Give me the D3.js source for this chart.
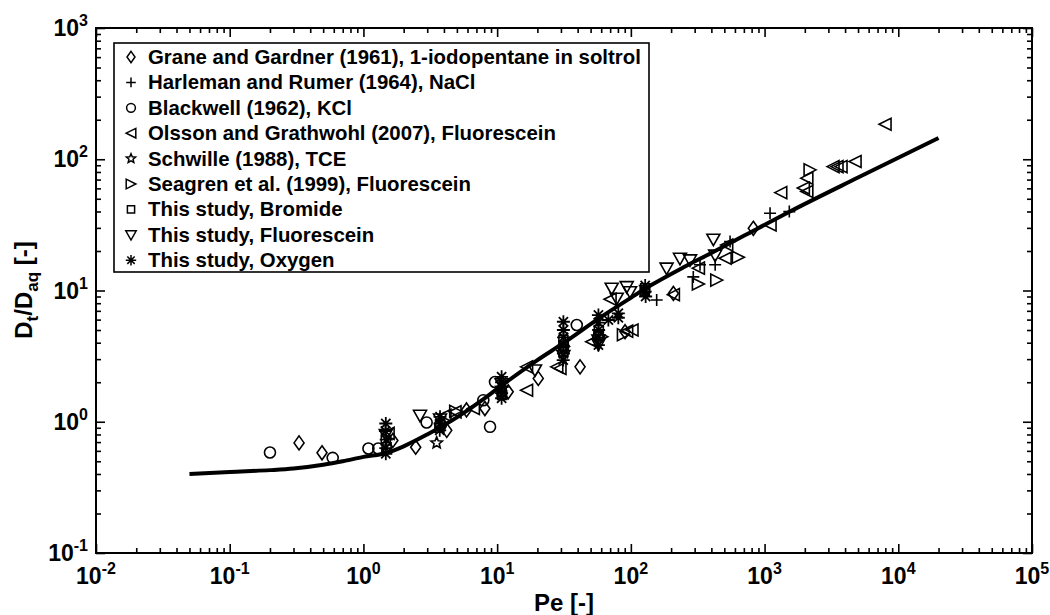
<!DOCTYPE html>
<html><head><meta charset="utf-8">
<script src="https://cdn.jsdelivr.net/npm/d3@7"></script>
<style>
body{margin:0;background:#fff}
text{font-family:"Liberation Sans",Arial,Helvetica,sans-serif;font-weight:bold;fill:#000}
</style>
</head><body>
<svg id="chart" width="1050" height="615"></svg>
<script>
// ---------- data ----------
const xDecades = [-2,-1,0,1,2,3,4,5];
const yDecades = [-1,0,1,2,3];
const xTitle = "Pe [-]";

const legendLabels = [
  "Grane and Gardner (1961), 1-iodopentane in soltrol",
  "Harleman and Rumer (1964), NaCl",
  "Blackwell (1962), KCl",
  "Olsson and Grathwohl (2007), Fluorescein",
  "Schwille (1988), TCE",
  "Seagren et al. (1999), Fluorescein",
  "This study, Bromide",
  "This study, Fluorescein",
  "This study, Oxygen"
];

// [Pe, Dt/Daq]
const grane = [[0.33,0.69],[0.49,0.58],[1.66,0.72],[2.46,0.64],[4.2,0.86],[5.9,1.23],[8.1,1.26],[12.1,1.69],[20.3,2.14],[41.7,2.62],[90.5,4.85],[208,9.5],[824,29.8]];
const harleman = [[156,8.47],[293,12.7],[329,15.7],[427,15.7],[552,23.6],[1099,38.8],[1531,39.9]];
const blackwell = [[0.2,0.583],[0.589,0.531],[1.09,0.626],[1.29,0.626],[2.97,0.988],[3.8,0.95],[7.88,1.46],[8.85,0.915],[9.64,2.01],[39.4,5.46]];
const olsson = [[1.53,0.815],[4.07,1.12],[4.84,1.19],[6.64,1.26],[16.6,1.74],[16.6,2.62],[27.9,2.62],[29.5,2.55],[51,4.07],[69.9,8.57],[93,4.9],[102,5.0],[208,9.3],[320,14.8],[507,17.6],[521,22.2],[1099,31.6],[1321,55.7],[1950,60.3],[2070,56.8],[2070,71.8],[3250,87.9],[3480,87.9],[3730,87.9],[4750,96.1],[7960,185]];
const schwille = [[3.53,0.69],[10.8,1.8],[31.3,3.6]];
const seagren = [[4.9,1.2],[60.6,4.44],[88,4.6],[320,11.2],[439,12.0],[637,17.9],[2190,83]];
const bromide = [[1.47,0.72],[1.49,0.64],[3.74,0.95],[3.7,0.9],[10.8,1.7],[10.9,1.6],[31.3,3.4],[31.5,3.8],[31.3,4.2],[57.2,4.5],[57.6,5.0],[128,10.4],[127,9.8]];
const fluorescein = [[1.47,0.8],[2.65,1.12],[3.74,1.05],[10.8,1.95],[19.2,2.48],[31.3,3.2],[57.2,3.9],[57.2,4.2],[71.9,10.4],[78.4,8.73],[93.1,10.7],[98.6,9.79],[185,14.8],[233,17.6],[277,17.1],[414,24.6],[427,18.6]];
const oxygen = [[1.47,0.97],[1.46,0.85],[1.48,0.73],[1.47,0.63],[1.47,0.57],[3.74,1.09],[3.74,0.97],[3.72,0.86],[10.8,2.2],[10.8,2.0],[10.9,1.84],[10.8,1.65],[10.8,1.51],[31.3,5.78],[31.3,5.0],[31.4,4.4],[31.3,3.8],[31.3,3.3],[31.2,2.95],[57.2,6.5],[57.2,5.7],[57.4,5.0],[57.2,4.4],[57.2,3.84],[67.9,5.96],[80.6,6.7],[80.6,6.2],[128,10.9],[128,9.8],[129,9.0]];

const curvePe = [0.05,0.1,0.2,0.3,0.5,0.7,1,1.5,2,3,5,8,10,20,31,60,100,140,250,400,700,1550,5000,20000];
const curveDt = [0.40,0.415,0.428,0.44,0.47,0.50,0.54,0.58,0.65,0.80,1.08,1.5,1.78,2.95,3.95,6.3,8.8,10.9,15.1,19.3,26.1,40,72.5,145];

// ---------- symbols ----------
function starPath(R, r){
  let p = "";
  for (let i=0;i<10;i++){
    const a = -Math.PI/2 + i*Math.PI/5;
    const rr = i%2===0 ? R : r;
    p += (i===0?"M":"L") + (rr*Math.cos(a)).toFixed(2) + "," + (rr*Math.sin(a)).toFixed(2);
  }
  return p + "Z";
}
const symbolPaths = {
  diamond: s => `M0,${-7*s}L${5*s},0L0,${7*s}L${-5*s},0Z`,
  plus: s => `M${-6*s},0H${6*s}M0,${-6*s}V${6*s}`,
  circle: s => `M${5.5*s},0A${5.5*s},${5.5*s} 0 1,1 ${-5.5*s},0A${5.5*s},${5.5*s} 0 1,1 ${5.5*s},0Z`,
  triL: s => `M${-6*s},0L${6*s},${-6*s}L${6*s},${6*s}Z`,
  star: s => starPath(6*s, 2.7*s),
  triR: s => `M${6*s},0L${-6*s},${-6*s}L${-6*s},${6*s}Z`,
  square: s => `M${-4.5*s},${-4.5*s}h${9*s}v${9*s}h${-9*s}Z`,
  triD: s => `M${-6.5*s},${-5*s}L${6.5*s},${-5*s}L0,${6.5*s}Z`,
  asterisk: s => {
    let p=""; const R=6.5*s;
    for (let k=0;k<4;k++){ const a=k*Math.PI/4;
      p += `M${(-R*Math.cos(a)).toFixed(2)},${(-R*Math.sin(a)).toFixed(2)}L${(R*Math.cos(a)).toFixed(2)},${(R*Math.sin(a)).toFixed(2)}`; }
    return p;
  }
};
const seriesData = [grane, harleman, blackwell, olsson, schwille, seagren, bromide, fluorescein, oxygen];
const seriesSym = ["diamond","plus","circle","triL","star","triR","square","triD","asterisk"];

// ---------- layout ----------
const svg = d3.select("#chart");
const L=96, R=1032, T=28, B=553;
const x = d3.scaleLog().domain([1e-2,1e5]).range([L,R]);
const y = d3.scaleLog().domain([1e-1,1e3]).range([B,T]);

const majorX = xDecades.map(d=>Math.pow(10,d));
const majorY = yDecades.map(d=>Math.pow(10,d));
function minors(decs){
  const out=[];
  for (let i=0;i<decs.length-1;i++) for (let m=2;m<=9;m++) out.push(m*Math.pow(10,decs[i]));
  return out;
}
const minorX = minors(xDecades), minorY = minors(yDecades);

function drawAxis(gen, scale, vals, size, tx, ty){
  const g = svg.append("g").attr("transform",`translate(${tx},${ty})`)
    .call(gen(scale).tickValues(vals).tickSize(size).tickFormat(""));
  g.select(".domain").remove();
  g.selectAll(".tick line").attr("stroke","#000").attr("stroke-width",1.6);
}
drawAxis(d3.axisBottom, x, majorX, -9, 0, B);
drawAxis(d3.axisBottom, x, minorX, -5, 0, B);
drawAxis(d3.axisTop, x, majorX, -9, 0, T);
drawAxis(d3.axisTop, x, minorX, -5, 0, T);
drawAxis(d3.axisLeft, y, majorY, -9, L, 0);
drawAxis(d3.axisLeft, y, minorY, -5, L, 0);
drawAxis(d3.axisRight, y, majorY, -9, R, 0);
drawAxis(d3.axisRight, y, minorY, -5, R, 0);

svg.append("rect").attr("x",L).attr("y",T).attr("width",R-L).attr("height",B-T)
  .attr("fill","none").attr("stroke","#000").attr("stroke-width",2);

// tick labels
xDecades.forEach(d=>{
  const t = svg.append("text").attr("x", x(Math.pow(10,d))).attr("y", B+31)
    .attr("text-anchor","middle").style("font-size","23px");
  t.append("tspan").text("10");
  t.append("tspan").attr("dy",-10).style("font-size","16px").text(String(d));
});
yDecades.forEach(d=>{
  const t = svg.append("text").attr("x", L-8).attr("y", y(Math.pow(10,d))+8)
    .attr("text-anchor","end").style("font-size","23px");
  t.append("tspan").text("10");
  t.append("tspan").attr("dy",-10).style("font-size","16px").text(String(d));
});

// axis titles
svg.append("text").attr("x",(L+R)/2).attr("y",611).attr("text-anchor","middle")
  .style("font-size","24px").text(xTitle);
const yt = svg.append("text").attr("transform","translate(32,290) rotate(-90)")
  .attr("text-anchor","middle").style("font-size","24px");
yt.append("tspan").text("D");
yt.append("tspan").attr("dy",6).style("font-size","17px").text("t");
yt.append("tspan").attr("dy",-6).text("/D");
yt.append("tspan").attr("dy",6).style("font-size","17px").text("aq");
yt.append("tspan").attr("dy",-6).text(" [-]");

// curve
const line = d3.line().x(d=>x(d[0])).y(d=>y(d[1])).curve(d3.curveMonotoneX);
svg.append("path").datum(curvePe.map((p,i)=>[p,curveDt[i]]))
  .attr("d",line).attr("fill","none").attr("stroke","#000").attr("stroke-width",4);

// points
seriesData.forEach((data,i)=>{
  const sym = seriesSym[i];
  svg.append("g").selectAll("path").data(data).join("path")
    .attr("transform",d=>`translate(${x(d[0])},${y(d[1])})`)
    .attr("d",symbolPaths[sym](1))
    .attr("fill","none").attr("stroke","#000")
    .attr("stroke-width", sym==="asterisk"?1.8:1.6);
});

// legend
const lg = svg.append("g");
lg.append("rect").attr("x",114).attr("y",43).attr("width",535).attr("height",229)
  .attr("fill","#fff").attr("stroke","#000").attr("stroke-width",1.6);
legendLabels.forEach((lab,i)=>{
  const cy = 57 + i*25.4;
  lg.append("path").attr("transform",`translate(131,${cy})`)
    .attr("d",symbolPaths[seriesSym[i]](0.8)).attr("fill","none").attr("stroke","#000").attr("stroke-width",1.5);
  lg.append("text").attr("x",148).attr("y",cy+7).style("font-size","20.4px").text(lab);
});
</script>
</body></html>
